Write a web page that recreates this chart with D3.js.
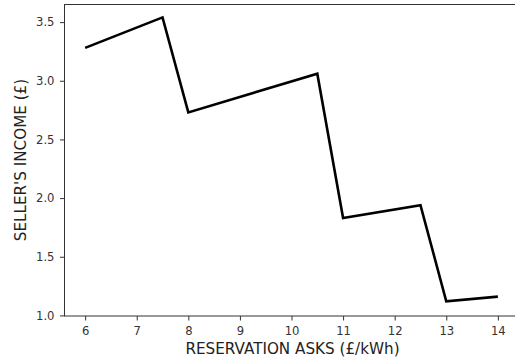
<!DOCTYPE html>
<html>
<head>
<meta charset="utf-8">
<script src="https://cdn.jsdelivr.net/npm/d3@7"></script>
<style>
  html, body { margin: 0; padding: 0; background: #fff; }
  svg { display: block; }
</style>
</head>
<body>
<svg id="chart" width="515" height="360"></svg>
<script>
const reservationAsks = [6, 7.5, 8, 10.5, 11, 12.5, 13, 14];
const sellerIncome = [3.28, 3.54, 2.73, 3.06, 1.83, 1.94, 1.12, 1.16];
const xTicks = [6, 7, 8, 9, 10, 11, 12, 13, 14];
const yTicks = [1.0, 1.5, 2.0, 2.5, 3.0, 3.5];
const xLabel = "RESERVATION ASKS (£/kWh)";
const yLabel = "SELLER'S INCOME (£)";

const FONT = "DejaVu Sans";
const svg = d3.select("#chart");
const mLeft = 64.5, mTop = 4.5, mRight = 518.5, mBottom = 316;

const x = d3.scaleLinear().domain([5.6, 14.4]).range([mLeft, mRight]);
const y = d3.scaleLinear().domain([0.995, 3.65]).range([mBottom, mTop]);

// axes
const xAxis = d3.axisBottom(x).tickValues(xTicks).tickFormat(d3.format("d")).tickSizeOuter(0).tickSize(4.5).tickPadding(6);
const yAxis = d3.axisLeft(y).tickValues(yTicks).tickFormat(d3.format(".1f")).tickSizeOuter(0).tickSize(4.5).tickPadding(5.5);

const gx = svg.append("g").attr("transform", `translate(0,${mBottom})`).call(xAxis);
const gy = svg.append("g").attr("transform", `translate(${mLeft},0)`).call(yAxis);
[gx, gy].forEach(g => {
  g.attr("font-family", FONT).attr("font-size", 11.6);
  g.select(".domain").remove();
  g.selectAll(".tick line").attr("stroke", "#333").attr("stroke-width", 1);
  g.selectAll(".tick text").attr("fill", "#333");
});

// frame
svg.append("rect")
  .attr("x", mLeft).attr("y", mTop)
  .attr("width", mRight - mLeft).attr("height", mBottom - mTop)
  .attr("fill", "none").attr("stroke", "#333").attr("stroke-width", 1);

// line
const line = d3.line().x((d, i) => x(reservationAsks[i])).y(d => y(d));
svg.append("path")
  .datum(sellerIncome)
  .attr("d", line)
  .attr("fill", "none")
  .attr("stroke", "#000")
  .attr("stroke-width", 2.6)
  .attr("stroke-linejoin", "miter");

// labels
svg.append("text")
  .attr("x", 292.5).attr("y", 353.5)
  .attr("text-anchor", "middle")
  .attr("font-family", FONT)
  .attr("font-size", 15.2)
  .attr("fill", "#222")
  .text(xLabel);

svg.append("text")
  .attr("transform", `translate(25.5,160) rotate(-90)`)
  .attr("text-anchor", "middle")
  .attr("font-family", FONT)
  .attr("font-size", 15.2)
  .attr("fill", "#222")
  .text(yLabel);
</script>
</body>
</html>
